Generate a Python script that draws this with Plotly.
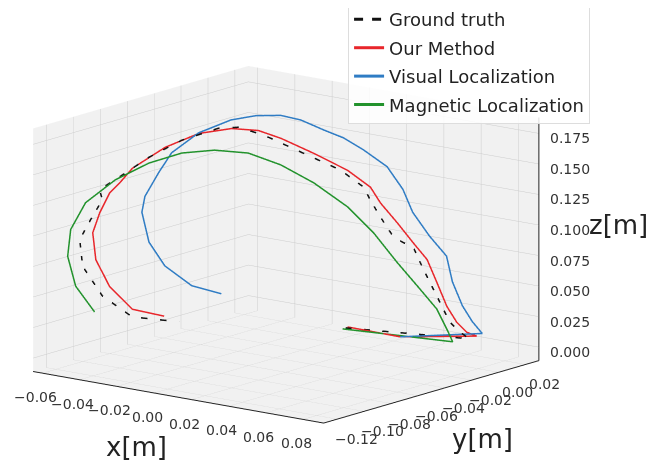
import plotly.graph_objects as go

# ---- data (metres) ----
gt_x = [0.0045, 0.0583, 0.0552, 0.0522, 0.0491, 0.0460, 0.0430, 0.0408, 0.0378, 0.0347, 0.0307, 0.0276, 0.0255,
        0.0184, 0.0062, -0.0052, -0.0131, -0.0193, -0.0306, -0.0407, -0.0499, -0.0561, -0.0552, -0.0588, -0.0622,
        -0.0613, -0.0552, -0.0460, -0.0315]
gt_y = [0.0061, 0.0237, 0.0206, 0.0174, 0.0143, 0.0112, 0.0081, 0.0059, 0.0027, -0.0004, -0.0045, -0.0076, -0.0098,
        -0.0170, -0.0295, -0.0411, -0.0492, -0.0554, -0.0670, -0.0773, -0.0867, -0.0930, -0.0920, -0.0958, -0.0992,
        -0.0983, -0.0920, -0.0826, -0.0679]
gt_z = [0.0, 0.0, 0.0059, 0.0142, 0.0306, 0.0470, 0.0635, 0.0766, 0.0800, 0.0851, 0.1015, 0.1155, 0.1262,
        0.1404, 0.1558, 0.1702, 0.1772, 0.1767, 0.1676, 0.1543, 0.1386, 0.1284, 0.1202, 0.1041, 0.0880,
        0.0660, 0.0413, 0.0237, 0.0189]

our_x = [0.0040, 0.0329, 0.0590, 0.0559, 0.0529, 0.0498, 0.0467, 0.0437, 0.0394, 0.0345, 0.0293, 0.0262, 0.0191,
         0.0087, -0.0014, -0.0085, -0.0167, -0.0269, -0.0373, -0.0474, -0.0514, -0.0545, -0.0575, -0.0597, -0.0587,
         -0.0545, -0.0474, -0.0376]
our_y = [0.0082, 0.0073, 0.0280, 0.0249, 0.0217, 0.0186, 0.0155, 0.0124, 0.0080, 0.0030, -0.0023, -0.0055, -0.0127,
         -0.0233, -0.0336, -0.0408, -0.0493, -0.0596, -0.0702, -0.0805, -0.0846, -0.0877, -0.0909, -0.0930, -0.0921,
         -0.0877, -0.0805, -0.0705]
our_z = [0.0, 0.0, 0.0010, 0.0044, 0.0127, 0.0259, 0.0456, 0.0645, 0.0785, 0.0951, 0.1116, 0.1248, 0.1390,
         0.1534, 0.1662, 0.1731, 0.1752, 0.1717, 0.1609, 0.1444, 0.1324, 0.1244, 0.1083, 0.0922, 0.0702,
         0.0480, 0.0289, 0.0227]

vis_x = [0.0329, 0.0620, 0.0589, 0.0559, 0.0528, 0.0510, 0.0457, 0.0405, 0.0375, 0.0326, 0.0252, 0.0191, 0.0129,
         0.0059, -0.0003, -0.0080, -0.0157, -0.0257, -0.0340, -0.0380, -0.0423, -0.0432, -0.0410, -0.0361, -0.0278,
         -0.0186]
vis_y = [0.0073, 0.0280, 0.0249, 0.0217, 0.0186, 0.0167, 0.0114, 0.0061, 0.0030, -0.0020, -0.0095, -0.0158, -0.0220,
         -0.0292, -0.0355, -0.0434, -0.0512, -0.0614, -0.0699, -0.0740, -0.0783, -0.0793, -0.0771, -0.0721, -0.0636,
         -0.0543]
vis_z = [0.0, 0.0040, 0.0139, 0.0271, 0.0468, 0.0680, 0.0846, 0.1044, 0.1233, 0.1422, 0.1565, 0.1666, 0.1734,
         0.1819, 0.1860, 0.1862, 0.1831, 0.1731, 0.1573, 0.1413, 0.1220, 0.1091, 0.0846, 0.0648, 0.0481,
         0.0410]

mag_x = [0.0046, 0.0561, 0.0543, 0.0512, 0.0460, 0.0389, 0.0316, 0.0236, 0.0132, 0.0030, -0.0071, -0.0175, -0.0276,
         -0.0377, -0.0482, -0.0574, -0.0620, -0.0629, -0.0604, -0.0546]
mag_y = [0.0037, 0.0142, 0.0123, 0.0092, 0.0039, -0.0033, -0.0108, -0.0190, -0.0296, -0.0399, -0.0502, -0.0609, -0.0712,
         -0.0815, -0.0921, -0.1015, -0.1062, -0.1072, -0.1047, -0.0987]
mag_z = [0.0, 0.0, 0.0107, 0.0271, 0.0437, 0.0660, 0.0908, 0.1124, 0.1325, 0.1477, 0.1580, 0.1610, 0.1592,
         0.1516, 0.1384, 0.1202, 0.0985, 0.0766, 0.0520, 0.0306]

x_ticks = [-0.06, -0.04, -0.02, 0.00, 0.02, 0.04, 0.06, 0.08]
y_ticks = [-0.12, -0.10, -0.08, -0.06, -0.04, -0.02, 0.00, 0.02]
z_ticks = [0.000, 0.025, 0.050, 0.075, 0.100, 0.125, 0.150, 0.175]

X_RANGE = [-0.065, 0.091]
Y_RANGE = [-0.130, 0.030]
Z_RANGE = [-0.011, 0.188]

FONT = "DejaVu Sans"
TICK_FONT = dict(family=FONT, size=14, color="#333333")
TITLE_FONT = dict(family=FONT, size=26, color="#222222")


def fmt(v, d):
    return f"{v:.{d}f}".replace("-", "\u2212")


fig = go.Figure()
series = [
    ("Ground truth", gt_x, gt_y, gt_z, "#111111", "dash"),
    ("Our Method", our_x, our_y, our_z, "#e8262b", "solid"),
    ("Visual Localization", vis_x, vis_y, vis_z, "#2f7cc4", "solid"),
    ("Magnetic Localization", mag_x, mag_y, mag_z, "#22922c", "solid"),
]
for i, (name, xs, ys, zs, col, dash) in enumerate(series):
    fig.add_trace(go.Scatter3d(x=xs, y=ys, z=zs, mode="lines", name=name,
                               legendgroup=f"g{i}",
                               line=dict(color=col, width=3, dash=dash)))

# z-axis spine on the right-hand vertical edge of the box (axis decoration)
fig.add_trace(go.Scatter3d(x=[X_RANGE[1], X_RANGE[1]], y=[Y_RANGE[1], Y_RANGE[1]], z=Z_RANGE,
                           mode="lines", line=dict(color="#222222", width=2),
                           showlegend=False, hoverinfo="skip"))


def ax(rng, ticks, line=True):
    return dict(
        title=dict(text=""),
        range=rng, tickvals=ticks, showticklabels=False,
        showbackground=True, backgroundcolor="#f1f1f1",
        gridcolor="#cccccc", gridwidth=1,
        showline=line, linecolor="#222222", linewidth=2,
        ticks="", zeroline=False, showspikes=False, autorange=False,
    )


annots = []
for t in x_ticks:
    annots.append(dict(x=t, y=Y_RANGE[0], z=Z_RANGE[0], text=fmt(t, 2), showarrow=False,
                       xanchor="center", yanchor="middle", xshift=-7, yshift=-24, font=TICK_FONT))
for t in y_ticks:
    annots.append(dict(x=X_RANGE[1], y=t, z=Z_RANGE[0], text=fmt(t, 2), showarrow=False,
                       xanchor="center", yanchor="middle", xshift=19, yshift=-20, font=TICK_FONT))
for t in z_ticks:
    annots.append(dict(x=X_RANGE[1], y=Y_RANGE[1], z=t, text=fmt(t, 3), showarrow=False,
                       xanchor="left", yanchor="middle", xshift=9, yshift=-5, font=TICK_FONT))
annots.append(dict(x=-0.02, y=Y_RANGE[0], z=Z_RANGE[0], text="x[m]", showarrow=False,
                   xanchor="center", yanchor="middle", xshift=20, yshift=-61, font=TITLE_FONT))
annots.append(dict(x=X_RANGE[1], y=-0.04, z=Z_RANGE[0], text="y[m]", showarrow=False,
                   xanchor="center", yanchor="middle", xshift=38, yshift=-51, font=TITLE_FONT))
annots.append(dict(x=X_RANGE[1], y=Y_RANGE[1], z=0.09, text="z[m]", showarrow=False,
                   xanchor="center", yanchor="middle", xshift=80, yshift=12, font=TITLE_FONT))

S = 0.97
fig.update_layout(
    width=654, height=464,
    margin=dict(l=0, r=0, t=0, b=0, autoexpand=False),
    paper_bgcolor="white",
    font=dict(family=FONT),
    scene=dict(
        domain=dict(x=[0.0, 0.85], y=[0.0, 1.0]),
        xaxis=ax(X_RANGE, x_ticks),
        yaxis=ax(Y_RANGE, y_ticks),
        zaxis=ax(Z_RANGE, z_ticks, line=False),
        aspectmode="manual",
        aspectratio=dict(x=1.639 * S, y=1.553 * S, z=1.109 * S),
        camera=dict(eye=dict(x=0.600 * 2.0, y=-0.7675 * 2.0, z=0.227 * 2.0 + 0.02),
                    center=dict(x=0, y=0, z=0.02), up=dict(x=0, y=0, z=1),
                    projection=dict(type="orthographic")),
        annotations=annots,
    ),
    legend=dict(x=0.52, y=1.017, xanchor="left", yanchor="top",
                bgcolor="rgba(255,255,255,0.85)", bordercolor="#dddddd", borderwidth=1,
                font=dict(family=FONT, size=18, color="#222222"),
                tracegroupgap=2),
)

fig.write_html("out.html")
